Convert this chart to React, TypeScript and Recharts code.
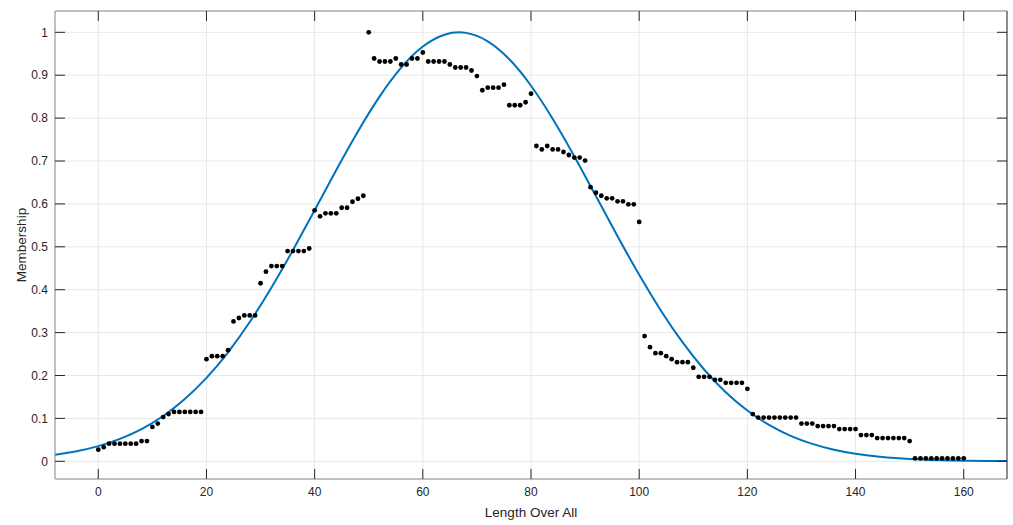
import React from "react";
import {
  ComposedChart,
  Line,
  Scatter,
  XAxis,
  YAxis,
  CartesianGrid,
} from "recharts";

// axis ticks
const lengthTicks = [0, 20, 40, 60, 80, 100, 120, 140, 160];
const membershipTicks = [0, 0.1, 0.2, 0.3, 0.4, 0.5, 0.6, 0.7, 0.8, 0.9, 1];

const X_DOMAIN: [number, number] = [-8, 168];
const Y_DOMAIN: [number, number] = [-0.0413, 1.0497];

// observed membership, one value per unit of length (0..160)
const membership = [
  0.027, 0.033, 0.041, 0.041, 0.041, 0.041, 0.041, 0.041, 0.047, 0.047,
  0.080, 0.088, 0.103, 0.110, 0.115, 0.115, 0.115, 0.115, 0.115, 0.115,
  0.238, 0.245, 0.245, 0.245, 0.259, 0.326, 0.334, 0.340, 0.340, 0.340,
  0.415, 0.442, 0.455, 0.455, 0.455, 0.490, 0.490, 0.490, 0.490, 0.496,
  0.585, 0.571, 0.578, 0.578, 0.578, 0.591, 0.591, 0.605, 0.612, 0.619,
  1.000, 0.939, 0.932, 0.932, 0.932, 0.939, 0.925, 0.925, 0.939, 0.939,
  0.953, 0.932, 0.932, 0.932, 0.932, 0.925, 0.918, 0.918, 0.918, 0.911,
  0.898, 0.865, 0.871, 0.871, 0.871, 0.878, 0.830, 0.830, 0.830, 0.837,
  0.857, 0.735, 0.727, 0.735, 0.727, 0.727, 0.721, 0.714, 0.708, 0.708,
  0.701, 0.639, 0.626, 0.619, 0.613, 0.613, 0.606, 0.606, 0.599, 0.599,
  0.558, 0.292, 0.266, 0.252, 0.252, 0.245, 0.238, 0.231, 0.231, 0.231,
  0.218, 0.197, 0.197, 0.197, 0.190, 0.190, 0.183, 0.183, 0.183, 0.183,
  0.169, 0.110, 0.102, 0.102, 0.102, 0.102, 0.102, 0.102, 0.102, 0.102,
  0.088, 0.088, 0.088, 0.082, 0.082, 0.082, 0.082, 0.075, 0.075, 0.075,
  0.075, 0.061, 0.061, 0.061, 0.054, 0.054, 0.054, 0.054, 0.054, 0.054,
  0.047, 0.007, 0.007, 0.007, 0.007, 0.007, 0.007, 0.007, 0.007, 0.007,
  0.007,
];

const fitLength = [
  -8, -4, 0, 4, 8, 12, 16, 20, 24, 28, 32, 36, 40, 44, 48, 52, 56, 60, 64, 68,
  72, 76, 80, 84, 88, 92, 96, 100, 104, 108, 112, 116, 120, 124, 128, 132, 136,
  140, 144, 148, 152, 156, 160, 164, 168,
];
const fitMembership = [
  0.0151, 0.0234, 0.0353, 0.0522, 0.0751, 0.1056, 0.145, 0.1943, 0.2541,
  0.3246, 0.4047, 0.4926, 0.5853, 0.679, 0.769, 0.8501, 0.9176, 0.9668, 0.9945,
  0.9987, 0.9791, 0.9371, 0.8755, 0.7986, 0.7112, 0.6182, 0.5247, 0.4347,
  0.3516, 0.2776, 0.214, 0.1611, 0.1183, 0.0849, 0.0594, 0.0406, 0.0271,
  0.0177, 0.0112, 0.007, 0.0042, 0.0025, 0.0014, 0.0008, 0.0005,
];

const points = membership.map((m, i) => ({ x: i, m }));
const fitCurve = fitLength.map((x, i) => ({ x, y: fitMembership[i] }));

const FONT = "'Liberation Sans', Arial, Helvetica, sans-serif";
const TEXT = "#262626";
const FRAME = "#8f8f8f";

// plot box, follows from the chart margins and axis sizes below
const PLOT_LEFT = 55;
const PLOT_RIGHT = 1007;
const PLOT_TOP = 11;
const PLOT_BOTTOM = 479;
const TICK_LEN = 10;

const Dot = (props: { cx?: number; cy?: number }) => {
  const { cx, cy } = props;
  if (cx == null || cy == null) return null;
  return <circle cx={cx} cy={cy} r={2.4} fill="#000" />;
};

// label plus inward tick marks on bottom and top edges
// eslint-disable-next-line @typescript-eslint/no-explicit-any
const XTick = ({ x, y, payload }: any) => (
  <g>
    <line x1={x} x2={x} y1={PLOT_BOTTOM} y2={PLOT_BOTTOM - TICK_LEN} stroke={TEXT} />
    <line x1={x} x2={x} y1={PLOT_TOP} y2={PLOT_TOP + TICK_LEN} stroke={TEXT} />
    <text x={x} y={y} dy="0.71em" textAnchor="middle" fontSize={12} fill={TEXT} fontFamily={FONT}>
      {payload.value}
    </text>
  </g>
);

// label plus inward tick marks on left and right edges
// eslint-disable-next-line @typescript-eslint/no-explicit-any
const YTick = ({ x, y, payload }: any) => (
  <g>
    <line x1={PLOT_LEFT} x2={PLOT_LEFT + TICK_LEN} y1={y} y2={y} stroke={TEXT} />
    <line x1={PLOT_RIGHT} x2={PLOT_RIGHT - TICK_LEN} y1={y} y2={y} stroke={TEXT} />
    <text x={x} y={y} dy="0.355em" textAnchor="end" fontSize={12} fill={TEXT} fontFamily={FONT}>
      {String(Math.round(payload.value * 10) / 10)}
    </text>
  </g>
);

// eslint-disable-next-line @typescript-eslint/no-explicit-any
const XLabel = ({ viewBox }: any) => (
  <text
    x={viewBox.x + viewBox.width / 2}
    y={viewBox.y + 38}
    textAnchor="middle"
    fontSize={13.5}
    fill={TEXT}
    fontFamily={FONT}
  >
    Length Over All
  </text>
);

// eslint-disable-next-line @typescript-eslint/no-explicit-any
const YLabel = ({ viewBox }: any) => {
  const x = viewBox.x + 16;
  const y = viewBox.y + viewBox.height / 2;
  return (
    <text
      x={x}
      y={y}
      transform={`rotate(-90, ${x}, ${y})`}
      textAnchor="middle"
      dominantBaseline="central"
      fontSize={13.5}
      fill={TEXT}
      fontFamily={FONT}
    >
      Membership
    </text>
  );
};

const NoLabel = () => <g />;

const frameX = {
  type: "number" as const,
  domain: X_DOMAIN,
  ticks: lengthTicks,
  allowDataOverflow: true,
  mirror: true,
  tick: NoLabel,
  tickLine: false,
};

const frameY = {
  type: "number" as const,
  domain: Y_DOMAIN,
  ticks: membershipTicks,
  allowDataOverflow: true,
  mirror: true,
  tick: NoLabel,
  tickLine: false,
};

export default function App() {
  return (
    <div style={{ position: "absolute", left: 0, top: 0, background: "#fff" }}>
      <ComposedChart
        width={1013}
        height={525}
        margin={{ top: PLOT_TOP, right: 1013 - PLOT_RIGHT, bottom: 0, left: 5 }}
        style={{ fontFamily: FONT }}
      >
        <CartesianGrid stroke="#e8e8e8" />
        <XAxis xAxisId="frameBottom" orientation="bottom" {...frameX} axisLine={{ stroke: FRAME }} />
        <XAxis xAxisId="frameTop" orientation="top" {...frameX} axisLine={{ stroke: FRAME }} />
        <YAxis yAxisId="frameLeft" orientation="left" {...frameY} axisLine={{ stroke: FRAME }} />
        <YAxis yAxisId="frameRight" orientation="right" {...frameY} axisLine={{ stroke: TEXT }} />
        <XAxis
          dataKey="x"
          type="number"
          domain={X_DOMAIN}
          ticks={lengthTicks}
          allowDataOverflow
          height={46}
          axisLine={false}
          tickLine={false}
          tickSize={0}
          tickMargin={8}
          tick={XTick}
          label={<XLabel />}
        />
        <YAxis
          type="number"
          domain={Y_DOMAIN}
          ticks={membershipTicks}
          allowDataOverflow
          width={50}
          axisLine={false}
          tickLine={false}
          tickSize={0}
          tickMargin={7}
          tick={YTick}
          label={<YLabel />}
        />
        <Line
          data={fitCurve}
          dataKey="y"
          type="natural"
          stroke="#0072BD"
          strokeWidth={2}
          dot={false}
          activeDot={false}
          isAnimationActive={false}
        />
        <Scatter
          data={points}
          dataKey="m"
          shape={(p: unknown) => <Dot {...(p as { cx?: number; cy?: number })} />}
          isAnimationActive={false}
        />
      </ComposedChart>
    </div>
  );
}
